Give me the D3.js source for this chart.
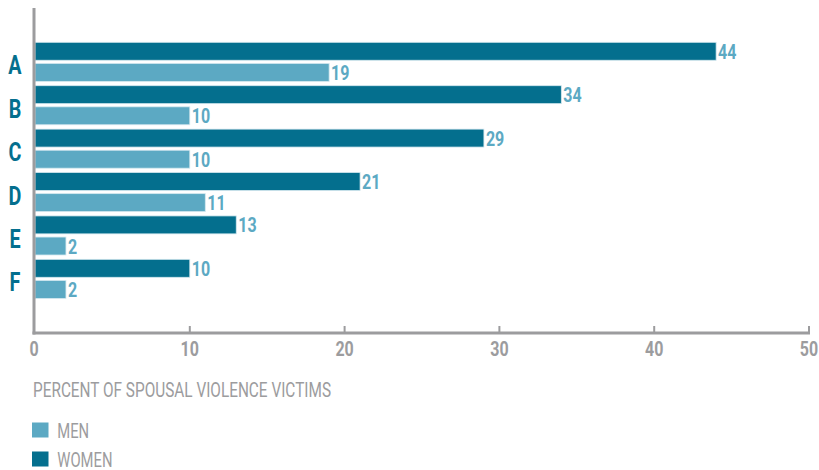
<!DOCTYPE html>
<html>
<head>
<meta charset="utf-8">
<script src="https://cdn.jsdelivr.net/npm/d3@7"></script>
<style>
  body { margin: 0; background: #fff; }
  svg { display: block; }
</style>
</head>
<body>
<div id="chart"></div>
<script>
// chart data
var categories = ["A", "B", "C", "D", "E", "F"];
var womenValues = [44, 34, 29, 21, 13, 10];
var menValues = [19, 10, 10, 11, 2, 2];
var xTicks = [0, 10, 20, 30, 40, 50];
var seriesNames = ["women", "men"];
var legendLabels = ["MEN", "WOMEN"];
var axisTitle = "PERCENT OF SPOUSAL VIOLENCE VICTIMS";

var svgWidth = 819;
var svgHeight = 470;

var colors = { women: "#046f8e", men: "#5ca9c3" };
var grey = "#9c9c9e";
var font = "Roboto, 'Liberation Sans', sans-serif";

var svg = d3.select("#chart")
  .append("svg")
  .attr("width", svgWidth)
  .attr("height", svgHeight);

// squeeze text sideways to get the condensed look
function squeeze(sel, px, py, sx) {
  sel.attr("transform", (d, i) => `translate(${px(d, i)}, ${py(d, i)}) scale(${sx}, 1)`);
}

// scales
var x = d3.scaleLinear().domain([0, 50]).range([35, 809]);

var y = d3.scaleBand()
  .domain(categories)
  .range([42.3, 298.4])
  .paddingInner(0.1)
  .paddingOuter(0);

var ySub = d3.scaleBand()
  .domain(seriesNames)
  .range([0, y.bandwidth()])
  .paddingInner(0.15);

var rows = categories.map(function(c, i) {
  return { cat: c, women: womenValues[i], men: menValues[i] };
});

// bars
var groups = svg.append("g").selectAll("g")
  .data(rows)
  .enter()
  .append("g")
  .attr("transform", d => `translate(0, ${y(d.cat)})`);

groups.selectAll("rect")
  .data(d => seriesNames.map(k => ({ key: k, value: d[k] })))
  .enter()
  .append("rect")
  .attr("x", x(0))
  .attr("y", d => ySub(d.key))
  .attr("width", d => x(d.value) - x(0))
  .attr("height", ySub.bandwidth())
  .attr("fill", d => colors[d.key])
  .attr("stroke", "#d4e8ef")
  .attr("stroke-width", 0.8);

var vals = groups.selectAll("text.val")
  .data(d => seriesNames.map(k => ({ key: k, value: d[k] })))
  .enter()
  .append("text")
  .attr("class", "val")
  .attr("font-family", font)
  .attr("font-weight", "bold")
  .attr("font-size", "20px")
  .attr("fill", colors.men)
  .text(d => d.value);
squeeze(vals, d => x(d.value) + 2, d => ySub(d.key) + ySub.bandwidth() / 2 + 7.5, 0.8);

// category letters
var letters = svg.append("g").selectAll("text")
  .data(categories)
  .enter()
  .append("text")
  .attr("text-anchor", "middle")
  .attr("font-family", font)
  .attr("font-weight", "bold")
  .attr("font-size", "26px")
  .attr("fill", colors.women)
  .text(d => d);
squeeze(letters, () => 15, d => y(d) + y.bandwidth() / 2 + 12.5, 0.76);

// axes
svg.append("line")
  .attr("x1", 34).attr("x2", 34)
  .attr("y1", 8).attr("y2", 334.5)
  .attr("stroke", grey).attr("stroke-width", 3);

svg.append("line")
  .attr("x1", 32.5).attr("x2", 810)
  .attr("y1", 333).attr("y2", 333)
  .attr("stroke", grey).attr("stroke-width", 3);

svg.append("g").selectAll("line")
  .data(xTicks.slice(1))
  .enter()
  .append("line")
  .attr("x1", d => x(d)).attr("x2", d => x(d))
  .attr("y1", 326).attr("y2", 333)
  .attr("stroke", grey).attr("stroke-width", 2);

var tickLabels = svg.append("g").selectAll("text")
  .data(xTicks)
  .enter()
  .append("text")
  .attr("text-anchor", "middle")
  .attr("font-family", font)
  .attr("font-weight", "bold")
  .attr("font-size", "20px")
  .attr("fill", grey)
  .text(d => d);
squeeze(tickLabels, d => d === 0 ? x(d) - 1 : x(d), () => 355.5, 0.8);

// axis title
svg.append("text")
  .attr("x", 33)
  .attr("y", 397)
  .attr("font-family", font)
  .attr("font-size", "19.5px")
  .attr("fill", grey)
  .attr("textLength", 298)
  .attr("lengthAdjust", "spacingAndGlyphs")
  .text(axisTitle);

// legend
var legend = svg.append("g").selectAll("g")
  .data(legendLabels)
  .enter()
  .append("g")
  .attr("transform", (d, i) => `translate(32, ${422.5 + i * 29})`);

legend.append("rect")
  .attr("width", 16.5)
  .attr("height", 15)
  .attr("fill", d => d === "MEN" ? colors.men : colors.women);

var legendText = legend.append("text")
  .attr("font-family", font)
  .attr("font-size", "20px")
  .attr("fill", grey)
  .text(d => d);
squeeze(legendText, () => 25.3, () => 15, 0.74);
</script>
</body>
</html>
